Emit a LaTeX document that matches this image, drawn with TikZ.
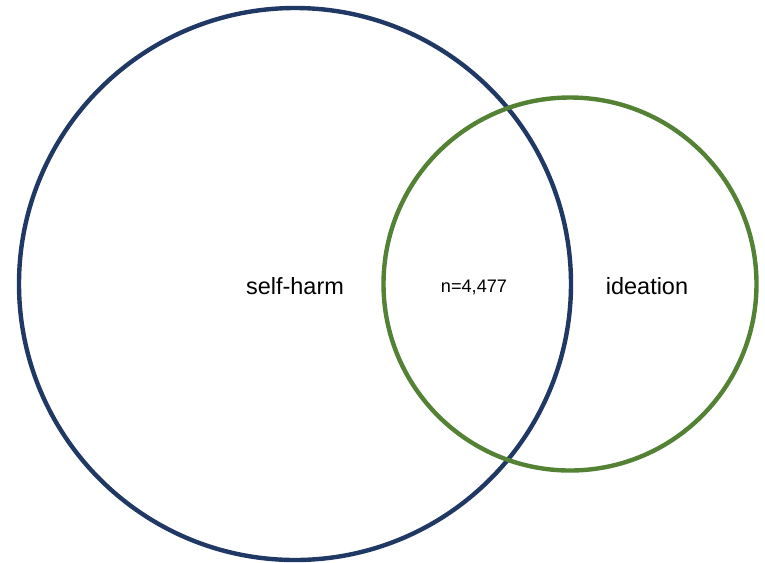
\documentclass[tikz,border=0pt]{standalone}
\usepackage{fontspec}
\setmainfont{Liberation Sans}
\usepackage{tikz}
\usetikzlibrary{positioning}
\definecolor{harmblue}{RGB}{31,56,100}
\definecolor{ideagreen}{RGB}{84,130,53}
\tikzset{
  setring/.style={circle,line width=3.3pt,inner sep=0pt},
  setlabel/.style={font=\fontsize{17.6}{20}\selectfont,inner sep=0pt},
  countlabel/.style={font=\fontsize{13.6}{16}\selectfont,inner sep=0pt}
}

\begin{document}
\begin{tikzpicture}[x=0.75pt,y=-0.75pt,line cap=round,line join=round]
  % --- Window ---
  \useasboundingbox (0,0) rectangle (765,562);

  % --- Sets ---
  \node[setring,draw=harmblue,minimum size=552*0.75pt] (harm) at (295,284) {};
  \node[setring,draw=ideagreen,minimum size=373*0.75pt] (idea) at (570,284) {};

  % --- Labels ---
  \node[setlabel] (harmtext) at (295,286) {self-harm};
  \node[setlabel] (ideatext) at (647,286) {ideation};
  \node[countlabel] (overlap) at (474,287) {n=4,477};

\end{tikzpicture}
\end{document}
